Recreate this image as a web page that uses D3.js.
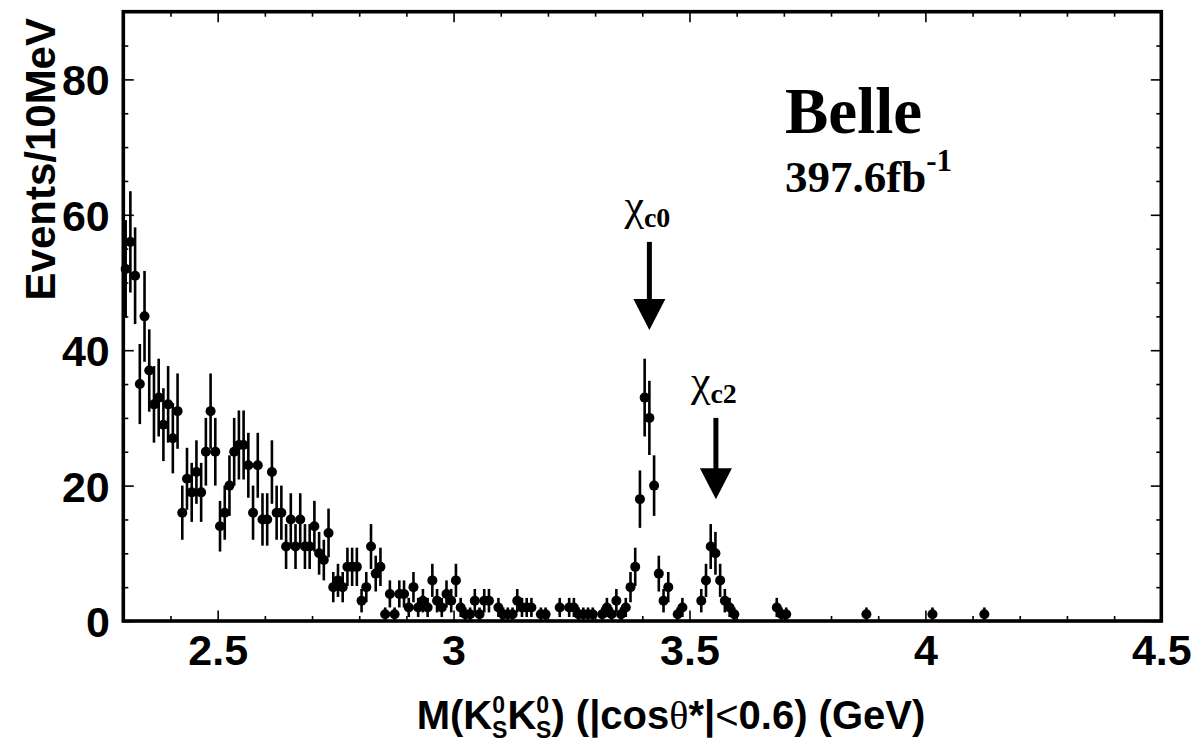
<!DOCTYPE html>
<html>
<head>
<meta charset="utf-8">
<script src="https://cdn.jsdelivr.net/npm/d3@7"></script>
<style>
  html, body { margin: 0; padding: 0; background: #fff; }
  svg { display: block; }
</style>
</head>
<body>
<svg id="chart" width="1197" height="744"></svg>
<script>
// K_S K_S invariant mass spectrum, 10 MeV bins starting at 2.30 GeV
const binLow = 2.30;
const binWidth = 0.01;
const counts = [
  52, 56, 51, 35, 45, 37, 32, 33, 29, 32,   // 2.30 - 2.40
  27, 31, 16, 21, 19, 22, 19, 25, 31, 25,   // 2.40 - 2.50
  14, 16, 20, 25, 26, 26, 23, 16, 23, 15,   // 2.50 - 2.60
  15, 22, 16, 16, 11, 15, 11, 15, 11, 11,   // 2.60 - 2.70
  14, 10,  9, 13,  5,  6,  5,  8,  8,  8,   // 2.70 - 2.80
   3,  5, 11,  7,  8,  1,  4,  1,  4,  4,   // 2.80 - 2.90
   2,  5,  2,  3,  2,  6,  3,  2,  4,  3,   // 2.90 - 3.00
   6,  2,  1,  1,  3,  1,  3,  3,  0,  2,   // 3.00 - 3.10
   1,  1,  1,  3,  2,  2,  2,  0,  1,  1,   // 3.10 - 3.20
   0,  0,  2,  0,  2,  2,  1,  1,  1,  1,   // 3.20 - 3.30
   0,  1,  2,  1,  3,  1,  2,  5,  8, 18,   // 3.30 - 3.40
  33, 30, 20,  7,  3,  5,  0,  1,  2,  0,   // 3.40 - 3.50
   0,  0,  3,  6, 11, 10,  6,  3,  2,  1,   // 3.50 - 3.60
   0,  0,  0,  0,  0,  0,  0,  0,  2,  1,   // 3.60 - 3.70
   1,  0,  0,  0,  0,  0,  0,  0,  0,  0,   // 3.70 - 3.80
   0,  0,  0,  0,  0,  0,  0,  1,  0,  0,   // 3.80 - 3.90
   0,  0,  0,  0,  0,  0,  0,  0,  0,  0,   // 3.90 - 4.00
   0,  1,  0,  0,  0,  0,  0,  0,  0,  0,   // 4.00 - 4.10
   0,  0,  1                                // 4.10 - 4.13
];

// Axis ranges and tick values
const xDomain = [2.3, 4.5];
const yDomain = [0, 90];
const xMajorTicks = [2.5, 3, 3.5, 4, 4.5];
const xTickLabels = ["2.5", "3", "3.5", "4", "4.5"];
const xMinorTicks = [2.3, 2.4, 2.6, 2.7, 2.8, 2.9, 3.1, 3.2, 3.3, 3.4, 3.6, 3.7, 3.8, 3.9, 4.1, 4.2, 4.3, 4.4];
const yMajorTicks = [0, 20, 40, 60, 80];
const yTickLabels = ["0", "20", "40", "60", "80"];
const yMinorTicks = [5, 10, 15, 25, 30, 35, 45, 50, 55, 65, 70, 75, 85];

// Resonance markers: label, mass, arrow top and tip (in events)
const peakNames = ["c0", "c2"];
const peakMass = [3.415, 3.556];
const arrowTop = [56, 30];
const arrowTip = [43, 18];

const svg = d3.select("#chart");
const W = 1197, H = 744;
const plot = { left: 123.3, right: 1161.3, top: 11.7, bottom: 621 };

svg.append("rect").attr("width", W).attr("height", H).attr("fill", "#fff");

const x = d3.scaleLinear().domain(xDomain).range([plot.left, plot.right]);
const y = d3.scaleLinear().domain(yDomain).range([plot.bottom, plot.top]);

const sansBold = "'Liberation Sans', Arial, Helvetica, sans-serif";
const serif = "'Liberation Serif', 'Times New Roman', Times, serif";

// Tick marks on all four sides, pointing inward
function tickAxis(gen, values, size, transform) {
  const g = svg.append("g")
    .attr("transform", transform)
    .call(gen.tickValues(values).tickSize(size).tickFormat(""));
  g.select(".domain").remove();
  g.selectAll(".tick line").attr("stroke", "#000").attr("stroke-width", 1.6);
  g.selectAll("text").remove();
  return g;
}
tickAxis(d3.axisBottom(x), xMajorTicks, -10.5, `translate(0,${plot.bottom})`);
tickAxis(d3.axisBottom(x), xMinorTicks, -5, `translate(0,${plot.bottom})`);
tickAxis(d3.axisTop(x), xMajorTicks, -10.5, `translate(0,${plot.top})`);
tickAxis(d3.axisTop(x), xMinorTicks, -5, `translate(0,${plot.top})`);
tickAxis(d3.axisLeft(y), yMajorTicks, -10.5, `translate(${plot.left},0)`);
tickAxis(d3.axisLeft(y), yMinorTicks, -5, `translate(${plot.left},0)`);
tickAxis(d3.axisRight(y), yMajorTicks, -10.5, `translate(${plot.right},0)`);
tickAxis(d3.axisRight(y), yMinorTicks, -5, `translate(${plot.right},0)`);

// Tick labels
const xLab = svg.append("g")
  .attr("transform", `translate(0,${plot.bottom})`)
  .call(d3.axisBottom(x).tickValues(xMajorTicks).tickSize(0)
    .tickFormat((d, i) => xTickLabels[i]));
xLab.select(".domain").remove();
xLab.selectAll("text")
  .attr("y", 44).attr("dy", 0)
  .attr("fill", "#000")
  .style("font-family", sansBold).style("font-weight", "bold").style("font-size", "43px");

const yLab = svg.append("g")
  .attr("transform", `translate(${plot.left},0)`)
  .call(d3.axisLeft(y).tickValues(yMajorTicks).tickSize(0)
    .tickFormat((d, i) => yTickLabels[i]));
yLab.select(".domain").remove();
yLab.selectAll("text")
  .attr("x", -13.5).attr("dy", "0.36em")
  .attr("fill", "#000")
  .style("font-family", sansBold).style("font-weight", "bold").style("font-size", "43px");

// Axis titles
svg.append("text")
  .attr("transform", `translate(55,18) rotate(-90)`)
  .attr("text-anchor", "end")
  .style("font-family", sansBold).style("font-weight", "bold").style("font-size", "42px")
  .text("Events/10MeV");

// K0_S written with the superscript stacked above the subscript
const xt = svg.append("text")
  .attr("x", 671).attr("y", 729)
  .attr("text-anchor", "middle")
  .style("font-family", sansBold).style("font-weight", "bold").style("font-size", "40px");
xt.append("tspan").text("M(K");
xt.append("tspan").attr("dy", -16).style("font-size", "23px").text("0");
xt.append("tspan").attr("dx", -13).attr("dy", 25).style("font-size", "23px").text("S");
xt.append("tspan").attr("dy", -9).text("K");
xt.append("tspan").attr("dy", -16).style("font-size", "23px").text("0");
xt.append("tspan").attr("dx", -13).attr("dy", 25).style("font-size", "23px").text("S");
xt.append("tspan").attr("dy", -9).text(") (|cos");
xt.append("tspan").style("font-family", serif).style("font-weight", "normal").text("θ");
xt.append("tspan").text("*|");
xt.append("tspan").style("font-weight", "normal").text("<");
xt.append("tspan").text("0.6) (GeV)");

// Data points with Poisson error bars (empty bins are not drawn)
const points = counts
  .map((n, i) => ({ m: binLow + (i + 0.5) * binWidth, n }))
  .filter(d => d.n > 0);

const gData = svg.append("g");
gData.selectAll("line.err")
  .data(points)
  .join("line")
  .attr("class", "err")
  .attr("x1", d => x(d.m)).attr("x2", d => x(d.m))
  .attr("y1", d => y(d.n + Math.sqrt(d.n)))
  .attr("y2", d => y(Math.max(0, d.n - Math.sqrt(d.n))))
  .attr("stroke", "#000").attr("stroke-width", 2.6);
gData.selectAll("circle")
  .data(points)
  .join("circle")
  .attr("cx", d => x(d.m)).attr("cy", d => y(d.n))
  .attr("r", 5)
  .attr("fill", "#000");

// Arrows and labels for the chi_c states
peakMass.forEach((m, i) => {
  const cx = x(m);
  const yTop = y(arrowTop[i]);
  const yTip = y(arrowTip[i]);
  const headLen = 31, headHalf = 16;
  svg.append("line")
    .attr("x1", cx).attr("x2", cx)
    .attr("y1", yTop).attr("y2", yTip - headLen + 2)
    .attr("stroke", "#000").attr("stroke-width", 5);
  svg.append("path")
    .attr("d", `M${cx - headHalf},${yTip - headLen} L${cx + headHalf},${yTip - headLen} L${cx},${yTip} Z`)
    .attr("fill", "#000");
  const t = svg.append("text")
    .attr("x", cx - 2).attr("y", yTop - 22)
    .attr("text-anchor", "middle")
    .style("font-family", serif).style("font-size", "44px");
  t.append("tspan").text("χ");
  t.append("tspan").attr("dy", 7).style("font-size", "28px").style("font-weight", "bold").text(peakNames[i]);
});

// Experiment label
svg.append("text")
  .attr("x", 785).attr("y", 133)
  .style("font-family", serif).style("font-weight", "bold").style("font-size", "65px")
  .text("Belle");
const lum = svg.append("text")
  .attr("x", 785).attr("y", 192)
  .style("font-family", serif).style("font-weight", "bold").style("font-size", "45px");
lum.append("tspan").text("397.6fb");
lum.append("tspan").attr("dy", -21).style("font-size", "31px").text("-1");

// Frame
svg.append("rect")
  .attr("x", plot.left).attr("y", plot.top)
  .attr("width", plot.right - plot.left).attr("height", plot.bottom - plot.top)
  .attr("fill", "none").attr("stroke", "#000").attr("stroke-width", 3.6);
</script>
</body>
</html>
